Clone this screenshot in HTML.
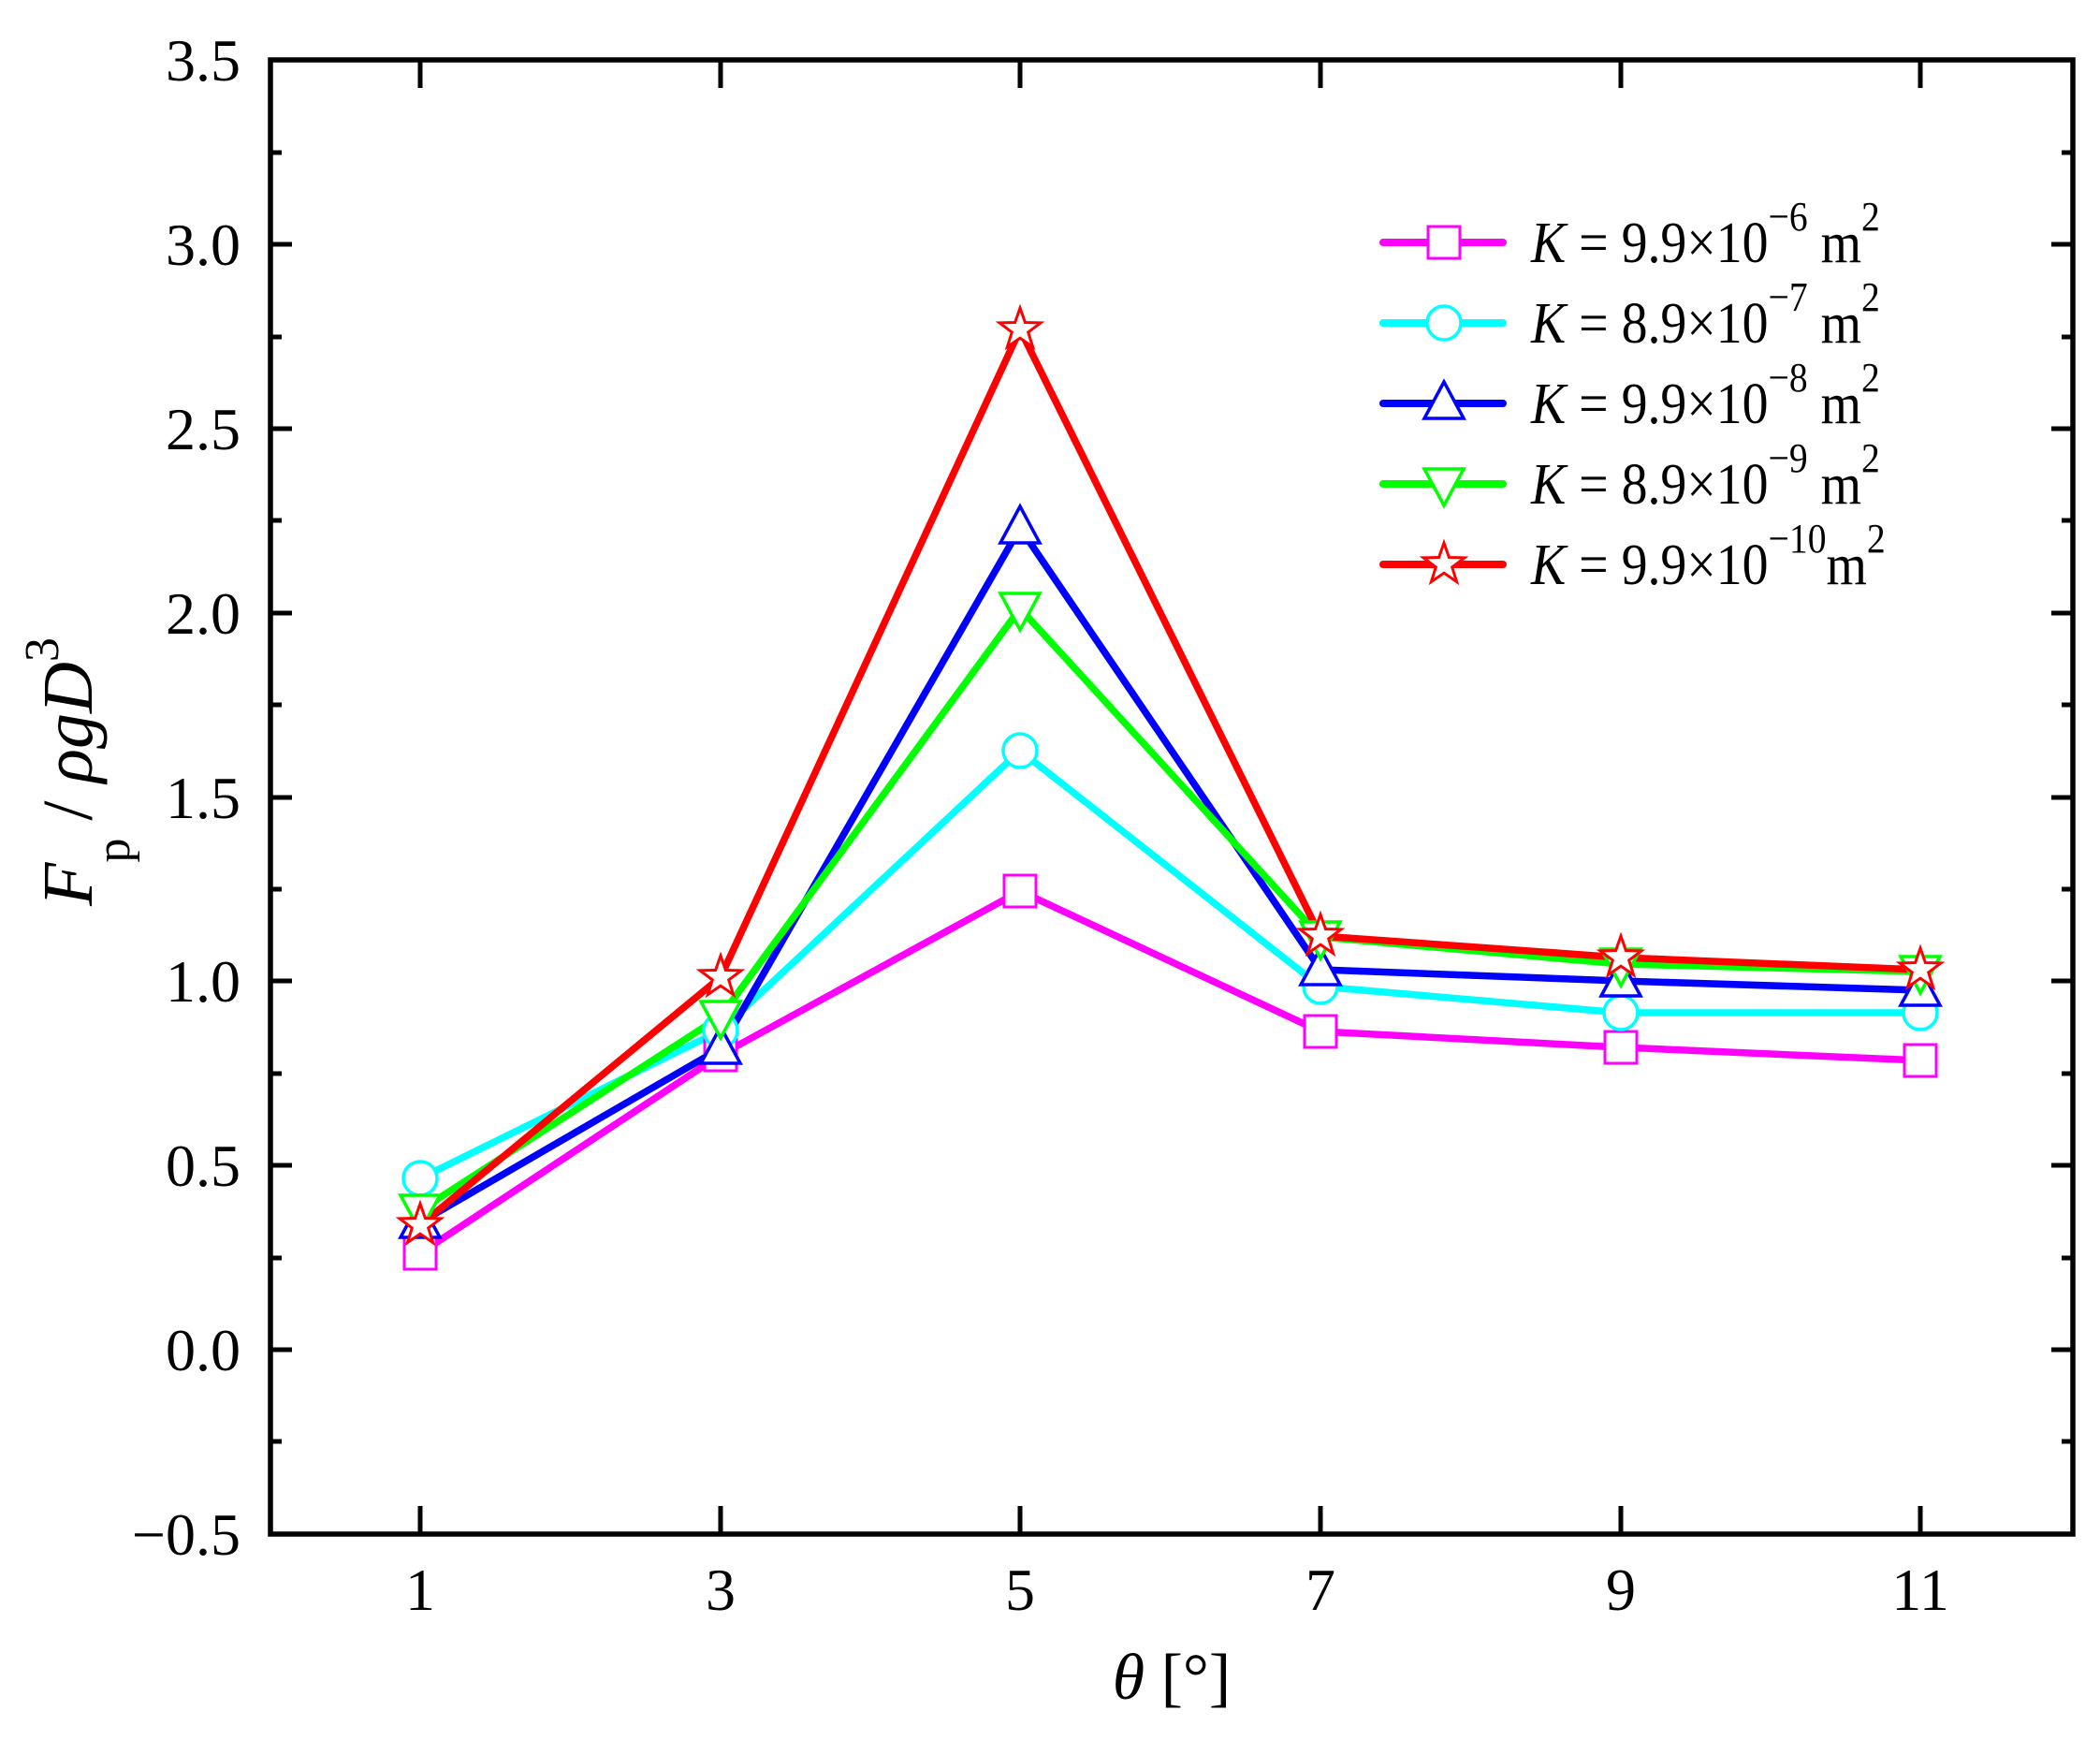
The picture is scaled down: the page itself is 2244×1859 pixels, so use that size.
<!DOCTYPE html>
<html><head><meta charset="utf-8"><style>body{margin:0;background:#fff}svg{display:block}</style></head><body>
<svg width="2244" height="1859" viewBox="0 0 2244 1859" xmlns="http://www.w3.org/2000/svg" font-family="'Liberation Serif', serif">
<defs>
<g id="sq"><rect x="-17" y="-17" width="34" height="34" fill="#fff" stroke="#ff00ff" stroke-width="3"/></g>
<g id="ci"><circle r="18" fill="#fff" stroke="#00ffff" stroke-width="3.5"/></g>
<g id="tu"><polygon points="0,-23 21,16 -21,16" fill="#fff" stroke="#0000ff" stroke-width="3.5"/></g>
<g id="td"><polygon points="0,23 21,-16 -21,-16" fill="#fff" stroke="#00ff00" stroke-width="3.5"/></g>
<g id="st"><polygon points="0,-23 5.4,-7.5 22,-7.1 8.7,2.9 13.6,18.6 0,9.2 -13.6,18.6 -8.7,2.9 -22,-7.1 -5.4,-7.5" fill="#fff" stroke="#ff0000" stroke-width="3"/></g>
</defs>
<rect x="289" y="64" width="1926" height="1575" fill="none" stroke="#000" stroke-width="5.5"/>
<g stroke="#000" stroke-width="5">
<path d="M289 261h23M289 458h23M289 655h23M289 852h23M289 1048h23M289 1245h23M289 1442h23
M2215 261h-23M2215 458h-23M2215 655h-23M2215 852h-23M2215 1048h-23M2215 1245h-23M2215 1442h-23"/>
<path d="M289 163h12M289 360h12M289 556h12M289 753h12M289 950h12M289 1147h12M289 1344h12M289 1540h12
M2215 163h-12M2215 360h-12M2215 556h-12M2215 753h-12M2215 950h-12M2215 1147h-12M2215 1344h-12M2215 1540h-12"/>
<path d="M449 1639v-30M770 1639v-30M1090 1639v-30M1411 1639v-30M1732 1639v-30M2052 1639v-30
M449 64v30M770 64v30M1090 64v30M1411 64v30M1732 64v30M2052 64v30"/>
</g>
<g font-size="64" text-anchor="end" fill="#000">
<text x="257" y="86">3.5</text><text x="257" y="283">3.0</text><text x="257" y="480">2.5</text>
<text x="257" y="677">2.0</text><text x="257" y="874">1.5</text><text x="257" y="1070">1.0</text>
<text x="257" y="1267">0.5</text><text x="257" y="1464">0.0</text><text x="257" y="1661">−0.5</text>
</g>
<g font-size="64" text-anchor="middle" fill="#000">
<text x="449" y="1720">1</text><text x="770" y="1720">3</text><text x="1090" y="1720">5</text>
<text x="1411" y="1720">7</text><text x="1732" y="1720">9</text><text x="2052" y="1720">11</text>
</g>
<text x="1252" y="1815" font-size="70" text-anchor="middle"><tspan font-style="italic">θ</tspan> [°]</text>
<text transform="translate(98,968) rotate(-90)" font-size="76"><tspan font-style="italic">F</tspan><tspan font-size="52" dy="40">p</tspan><tspan dy="-40"> / </tspan><tspan font-style="italic">ρgD</tspan><tspan font-size="52" dy="-36">3</tspan></text>
<g fill="none" stroke-width="7.5" stroke-linejoin="round">
<polyline stroke="#ff00ff" points="449,1339 770,1127 1090,952 1411,1102 1732,1119 2052,1133"/>
<polyline stroke="#00ffff" points="449,1259 770,1101 1090,802 1411,1054 1732,1082 2052,1082"/>
<polyline stroke="#0000ff" points="449,1306 770,1120 1090,564 1411,1036 1732,1048 2052,1058"/>
<polyline stroke="#00ff00" points="449,1293 770,1086 1090,650 1411,1001 1732,1030 2052,1038"/>
<polyline stroke="#ff0000" points="449,1309 770,1044 1090,352 1411,1000 1732,1023 2052,1036"/>
</g>
<g>
<use href="#sq" x="449" y="1339"/><use href="#sq" x="770" y="1127"/><use href="#sq" x="1090" y="952"/><use href="#sq" x="1411" y="1102"/><use href="#sq" x="1732" y="1119"/><use href="#sq" x="2052" y="1133"/>
<use href="#ci" x="449" y="1259"/><use href="#ci" x="770" y="1101"/><use href="#ci" x="1090" y="802"/><use href="#ci" x="1411" y="1054"/><use href="#ci" x="1732" y="1082"/><use href="#ci" x="2052" y="1082"/>
<use href="#tu" x="449" y="1306"/><use href="#tu" x="770" y="1120"/><use href="#tu" x="1090" y="564"/><use href="#tu" x="1411" y="1036"/><use href="#tu" x="1732" y="1048"/><use href="#tu" x="2052" y="1058"/>
<use href="#td" x="449" y="1293"/><use href="#td" x="770" y="1086"/><use href="#td" x="1090" y="650"/><use href="#td" x="1411" y="1001"/><use href="#td" x="1732" y="1030"/><use href="#td" x="2052" y="1038"/>
<use href="#st" x="449" y="1309"/><use href="#st" x="770" y="1044"/><use href="#st" x="1090" y="352"/><use href="#st" x="1411" y="1000"/><use href="#st" x="1732" y="1023"/><use href="#st" x="2052" y="1036"/>
</g>
<g stroke-width="8" stroke-linecap="round">
<line x1="1478" y1="259" x2="1606" y2="259" stroke="#ff00ff"/>
<line x1="1478" y1="345" x2="1606" y2="345" stroke="#00ffff"/>
<line x1="1478" y1="431" x2="1606" y2="431" stroke="#0000ff"/>
<line x1="1478" y1="517" x2="1606" y2="517" stroke="#00ff00"/>
<line x1="1478" y1="603" x2="1606" y2="603" stroke="#ff0000"/>
</g>
<use href="#sq" x="1543" y="259"/><use href="#ci" x="1543" y="345"/><use href="#tu" x="1543" y="431"/><use href="#td" x="1543" y="517"/><use href="#st" x="1543" y="603"/>
<g font-size="62" fill="#000" transform="translate(1636,0) scale(0.9,1)">
<text x="0" y="280"><tspan font-style="italic">K</tspan> = 9.9×10<tspan font-size="44" dy="-34">−6</tspan><tspan dy="34"> m</tspan><tspan font-size="44" dy="-34">2</tspan></text>
<text x="0" y="366"><tspan font-style="italic">K</tspan> = 8.9×10<tspan font-size="44" dy="-34">−7</tspan><tspan dy="34"> m</tspan><tspan font-size="44" dy="-34">2</tspan></text>
<text x="0" y="452"><tspan font-style="italic">K</tspan> = 9.9×10<tspan font-size="44" dy="-34">−8</tspan><tspan dy="34"> m</tspan><tspan font-size="44" dy="-34">2</tspan></text>
<text x="0" y="538"><tspan font-style="italic">K</tspan> = 8.9×10<tspan font-size="44" dy="-34">−9</tspan><tspan dy="34"> m</tspan><tspan font-size="44" dy="-34">2</tspan></text>
<text x="0" y="624"><tspan font-style="italic">K</tspan> = 9.9×10<tspan font-size="44" dy="-34">−10</tspan><tspan dy="34">m</tspan><tspan font-size="44" dy="-34">2</tspan></text>
</g>
</svg>
</body></html>
